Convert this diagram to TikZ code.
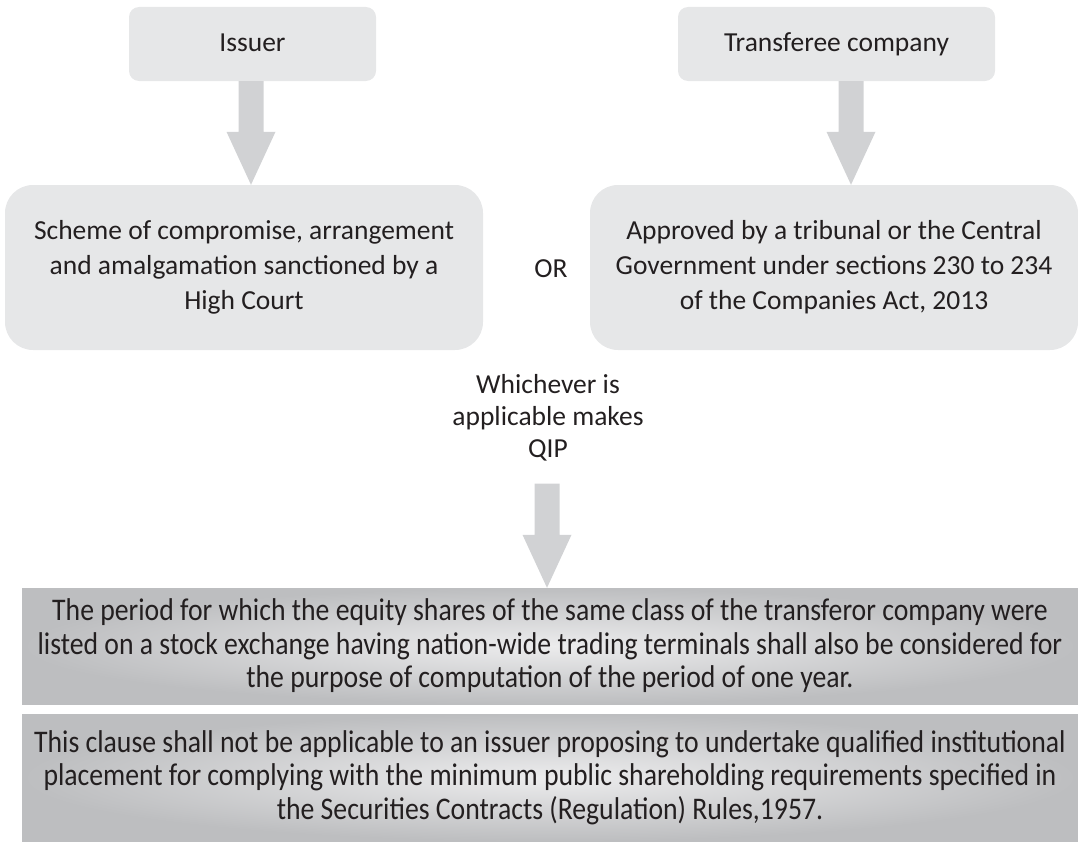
\documentclass[tikz,border=0pt]{standalone}
\usepackage{fontspec}
\setmainfont{Carlito}
\newfontfamily\condfont[FakeStretch=0.88]{Carlito}
\usetikzlibrary{calc}
\definecolor{boxfill}{HTML}{E6E7E8}
\definecolor{arrowfill}{HTML}{D1D2D4}
\definecolor{txt}{HTML}{231F20}
\definecolor{shadein}{HTML}{ECECED}
\definecolor{shadeout}{HTML}{BDBEC0}
\newcommand\mainsize{\fontsize{27.5}{35}\selectfont}
\newcommand\whichsize{\fontsize{27.5}{32}\selectfont}
\newcommand\notesize{\condfont\fontsize{31.5}{33.5}\selectfont}
% block arrow from #1 down to #2 (x taken from #1)
\newcommand\blockarrow[2]{%
  \fill[arrowfill] let \p1=(#1), \p2=(#2) in
    (\x1-12.5pt,\y1) -- (\x1+12.5pt,\y1) -- (\x1+12.5pt,\y2+53pt)
    -- (\x1+24.5pt,\y2+53pt) -- (\x1,\y2) -- (\x1-24.5pt,\y2+53pt)
    -- (\x1-12.5pt,\y2+53pt) -- cycle;}
\tikzset{
  topbox/.style={fill=boxfill, rounded corners=10pt, inner sep=0pt, align=center,
    text=txt, font=\mainsize, minimum height=74pt, text height=22pt, text depth=6pt},
  bigbox/.style={fill=boxfill, rounded corners=28pt, inner sep=0pt, align=center,
    text=txt, font=\mainsize, minimum height=165pt},
  plain/.style={inner sep=0pt, align=center, text=txt, font=\mainsize},
  notebox/.style={inner color=shadein, outer color=shadeout, inner sep=0pt,
    align=center, text=txt, font=\notesize, minimum width=1056pt}
}
\begin{document}
\begin{tikzpicture}[x=1pt,y=-1pt]
\useasboundingbox (0,0) rectangle (1078,843);
\node[topbox, minimum width=247pt] (issuer) at (252.5,44) {Issuer};
\node[topbox, minimum width=317pt] (transferee) at (836.5,44) {Transferee company};
\node[bigbox, minimum width=478pt] (scheme) at (244,267.5)
  {Scheme of compromise, arrangement\\and amalgamation sanctioned by a\\High Court};
\node[bigbox, minimum width=488pt] (approved) at (834,267.5)
  {Approved by a tribunal or the Central\\Government under sections 230 to 234\\of the Companies Act, 2013};
\node[plain, text height=19pt, text depth=0pt] (or) at (551,268) {OR};
\node[plain, font=\whichsize] (which) at (548,418) {Whichever is\\applicable makes\\QIP};
\node[notebox, minimum height=116pt] (period) at (550,646)
  {The period for which the equity shares of the same class of the transferor company were\\listed on a stock exchange having nation-wide trading terminals shall also be considered for\\the purpose of computation of the period of one year.};
\node[notebox, minimum height=127pt] (clause) at (550,777.5)
  {This clause shall not be applicable to an issuer proposing to undertake qualified institutional\\placement for complying with the minimum public shareholding requirements specified in\\the Securities Contracts (Regulation) Rules,1957.};
\coordinate (a1s) at ($(issuer.south)+(-1.5,0)$);
\coordinate (a2s) at ($(transferee.south)+(14.5,0)$);
\coordinate (a3s) at ($(which.south)+(-1,22)$);
\blockarrow{a1s}{a1s |- scheme.north}
\blockarrow{a2s}{a2s |- approved.north}
\blockarrow{a3s}{a3s |- period.north}
\end{tikzpicture}
\end{document}
